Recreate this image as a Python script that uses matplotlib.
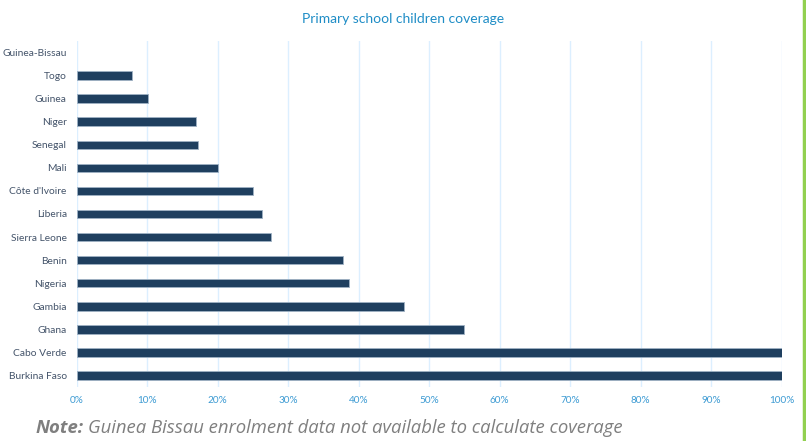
import numpy as np
import matplotlib
matplotlib.use("Agg")
import matplotlib.pyplot as plt
from matplotlib.ticker import FuncFormatter

countries = ["Guinea-Bissau", "Togo", "Guinea", "Niger", "Senegal", "Mali",
             "Côte d'Ivoire", "Liberia", "Sierra Leone", "Benin", "Nigeria",
             "Gambia", "Ghana", "Cabo Verde", "Burkina Faso"]
coverage = [np.nan, 7.9, 10.2, 17.0, 17.3, 20.0, 25.0, 26.3, 27.6, 37.8, 38.6,
            46.5, 54.9, 100.0, 100.0]
xticks = [0, 10, 20, 30, 40, 50, 60, 70, 80, 90, 100]

title = "Primary school children coverage"
note_bold = "Note:"
note_text = "Guinea Bissau enrolment data not available to calculate coverage"

plt.rcParams['font.family'] = ['Lato', 'DejaVu Sans']

fig = plt.figure(figsize=(8.06, 4.41), dpi=100)
W, H = 806, 441
left, right = 76.5, 781.5
top, bottom = 41.25, 386.75
ax = fig.add_axes([left / W, 1 - bottom / H, (right - left) / W, (bottom - top) / H])

y = np.arange(len(countries))
ax.barh(y, coverage, height=0.38, color="#1f3f5f", edgecolor="#9fb2c4", linewidth=0.6, zorder=3)
ax.set_ylim(len(countries) - 0.5, -0.5)
ax.set_xlim(0, 100)
ax.set_yticks(y)
ax.set_yticklabels(countries, fontsize=7.4, color="#44546a")
ax.set_xticks(xticks)
ax.xaxis.set_major_formatter(FuncFormatter(lambda v, p: f"{int(v)}%"))
ax.tick_params(axis='x', labelsize=7.2, labelcolor="#3d9bd3", length=0, pad=6.5)
ax.tick_params(axis='y', length=0, pad=7)
ax.grid(axis='x', color="#dcefff", linewidth=1.0, zorder=0)
for s in ax.spines.values():
    s.set_visible(False)

fig.text(0.5, 1 - 19 / H, title, ha='center', va='center', fontsize=10, color="#1f8dc6")

fig.text(36 / W, 1 - 428 / H, note_bold, ha='left', va='center', fontsize=13.3,
         color="#7f7f7f", fontstyle='italic', fontweight='bold', family='Open Sans')
fig.text(88 / W, 1 - 428 / H, note_text,
         ha='left', va='center', fontsize=13.3, color="#7f7f7f", fontstyle='italic', family='Open Sans')

fig.add_artist(plt.Line2D([803.5 / W, 803.5 / W], [0, 1], color="#92d050", linewidth=2.5))

fig.savefig("out.png", dpi=100)
